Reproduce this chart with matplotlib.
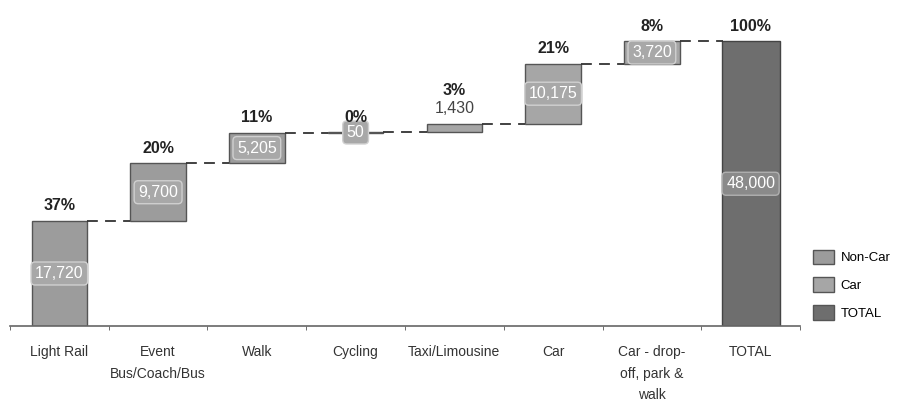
import numpy as np
import matplotlib.pyplot as plt
from matplotlib.patches import Patch

categories = ["Light Rail", "Event\nBus/Coach/Bus", "Walk", "Cycling",
              "Taxi/Limousine", "Car", "Car - drop-\noff, park &\nwalk", "TOTAL"]
values = [17720, 9700, 5205, 50, 1430, 10175, 3720]
total = 48000
kinds = ["Non-Car", "Non-Car", "Non-Car", "Non-Car", "Car", "Car", "Car"]
percents = ["37%", "20%", "11%", "0%", "3%", "21%", "8%", "100%"]

colors = {"Non-Car": "#9c9c9c", "Car": "#a6a6a6", "TOTAL": "#6e6e6e"}


def run():
    plt.rcParams["font.family"] = ["Liberation Sans", "DejaVu Sans"]
    fig = plt.figure(figsize=(9.05, 4.01), dpi=100)
    ax = fig.add_axes([0.011, 0.187, 0.873, 0.813])

    width = 0.56
    x = np.arange(len(categories))
    bottoms = np.concatenate([[0], np.cumsum(values)[:-1]])
    tops = bottoms + np.array(values)

    for i, (v, b, k) in enumerate(zip(values, bottoms, kinds)):
        ax.bar(x[i], v, width, bottom=b, color=colors[k], edgecolor="#555555", linewidth=1)
    ax.bar(x[-1], total, width * 1.05, color=colors["TOTAL"], edgecolor="#444444", linewidth=1)

    # dashed connectors
    all_tops = list(tops) + [total]
    for i in range(len(categories) - 1):
        ax.plot([x[i] + width / 2, x[i + 1] - width / 2], [all_tops[i], all_tops[i]],
                ls=(0, (6, 4)), color="#333333", lw=1.3)

    box = dict(boxstyle="round,pad=0.25", fc="#a8a8a8", ec="#d0d0d0", lw=1)
    for i, (v, b) in enumerate(zip(values, bottoms)):
        if categories[i] == "Taxi/Limousine":
            ax.text(x[i], tops[i] + 1300, f"{v:,}", ha="center", va="bottom",
                    fontsize=11.5, color="#444444")
            continue
        ax.text(x[i], b + v / 2, f"{v:,}", ha="center", va="center", fontsize=11.5,
                color="white", bbox=box)
    ax.text(x[-1], total / 2, f"{total:,}", ha="center", va="center", fontsize=11.5,
            color="white", bbox=dict(boxstyle="round,pad=0.25", fc="#8a8a8a", ec="#b0b0b0", lw=1))

    for i, p in enumerate(percents):
        top = all_tops[i]
        off = 1300 if categories[i] != "Taxi/Limousine" else 4300
        ax.text(x[i], top + off, p, ha="center", va="bottom", fontsize=11.5,
                fontweight="bold", color="#222222")

    ax.set_xlim(-0.5, len(categories) - 0.5)
    ax.set_ylim(0, 55000)
    ax.set_xticks(x, labels=categories, fontsize=10, color="#333333", va="top",
                  linespacing=1.65)
    ax.tick_params(axis="x", length=0, pad=14)
    ax.set_xticks(np.arange(len(categories) + 1) - 0.5, minor=True)
    ax.tick_params(axis="x", which="minor", length=3, color="#555555")
    ax.set_yticks([])
    for s in ["left", "right", "top"]:
        ax.spines[s].set_visible(False)
    ax.spines["bottom"].set_color("#666666")
    ax.spines["bottom"].set_linewidth(1.2)

    handles = [Patch(fc=colors[k], ec="#555555", label=k) for k in ["Non-Car", "Car", "TOTAL"]]
    fig.legend(handles=handles, loc="center left", bbox_to_anchor=(0.885, 0.29),
               frameon=False, fontsize=9.5, handlelength=1.6, handleheight=1.3,
               labelspacing=1.0, handletextpad=0.5)

    fig.savefig("out.png", dpi=100)


if __name__ == "__main__":
    run()
